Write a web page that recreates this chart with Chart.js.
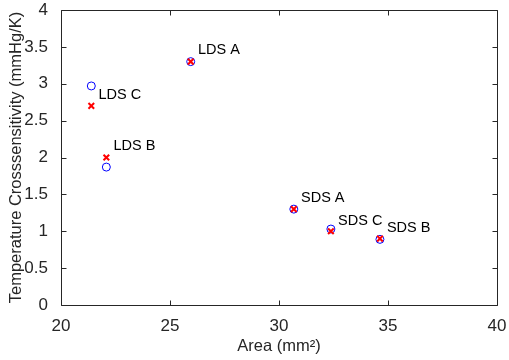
<!DOCTYPE html>
<html>
<head>
<meta charset="utf-8">
<script src="https://cdn.jsdelivr.net/npm/chart.js@4/dist/chart.umd.min.js"></script>
<style>
  html, body { margin: 0; padding: 0; background: #fff; }
  canvas { display: block; }
</style>
</head>
<body>
<canvas id="scatter" width="509" height="360"></canvas>
<script>
// sensor names and their area (mm^2)
const names = ['LDS A', 'LDS B', 'LDS C', 'SDS A', 'SDS B', 'SDS C'];
const area = [25.95, 22.08, 21.39, 30.68, 34.63, 32.38];
// two estimates of the temperature cross-sensitivity (mmHg/K)
const circleVals = [3.30, 1.87, 2.97, 1.30, 0.89, 1.03];
const crossVals = [3.30, 2.00, 2.70, 1.30, 0.90, 1.00];
// text() anchors for the name labels, in axis units
const labelX = [26.28, 22.41, 21.72, 31.01, 34.95, 32.71];
const labelY = [3.46, 2.15, 2.85, 1.45, 1.05, 1.14];

const xTicks = [20, 25, 30, 35, 40];
const yTicks = [0, 0.5, 1, 1.5, 2, 2.5, 3, 3.5, 4];

const axisColor = '#262626';
const fontFamily = 'Arial, "Liberation Sans", Helvetica, sans-serif';

// matlab style box with inward ticks on all four sides, plus the name labels
const boxPlugin = {
  id: 'boxPlugin',
  afterDatasetsDraw(chart) {
    const { ctx, chartArea: a, scales: { x, y } } = chart;
    const tl = 5;
    const l = Math.round(a.left) + 0.5, r = Math.round(a.right) + 0.5;
    const t = Math.round(a.top) + 0.5, b = Math.round(a.bottom) + 0.5;
    ctx.save();
    ctx.strokeStyle = axisColor;
    ctx.lineWidth = 1;
    ctx.beginPath();
    ctx.moveTo(l, t); ctx.lineTo(r, t); ctx.lineTo(r, b); ctx.lineTo(l, b); ctx.closePath();
    xTicks.forEach(v => {
      const px = Math.round(x.getPixelForValue(v)) + 0.5;
      ctx.moveTo(px, b); ctx.lineTo(px, b - tl);
      ctx.moveTo(px, t); ctx.lineTo(px, t + tl);
    });
    yTicks.forEach(v => {
      const py = Math.round(y.getPixelForValue(v)) + 0.5;
      ctx.moveTo(l, py); ctx.lineTo(l + tl, py);
      ctx.moveTo(r, py); ctx.lineTo(r - tl, py);
    });
    ctx.stroke();

    ctx.fillStyle = '#000';
    ctx.font = '14.5px ' + fontFamily;
    ctx.textBaseline = 'middle';
    ctx.textAlign = 'left';
    names.forEach((n, i) => {
      ctx.fillText(n, x.getPixelForValue(labelX[i]), y.getPixelForValue(labelY[i]));
    });
    ctx.restore();
  }
};

const toPoints = vals => area.map((a, i) => ({ x: a, y: vals[i] }));
const plainTick = v => String(v);

new Chart(document.getElementById('scatter'), {
  type: 'scatter',
  data: {
    datasets: [
      {
        label: 'cross',
        data: toPoints(crossVals),
        pointStyle: 'crossRot',
        pointRadius: 4,
        pointBorderWidth: 2,
        borderColor: '#ff0000',
        backgroundColor: '#ff0000',
        order: 0
      },
      {
        label: 'circle',
        data: toPoints(circleVals),
        pointStyle: 'circle',
        pointRadius: 4,
        pointBorderWidth: 1,
        borderColor: '#0000ff',
        backgroundColor: 'rgba(0,0,0,0)',
        order: 1
      }
    ]
  },
  options: {
    responsive: false,
    animation: false,
    events: [],
    layout: { padding: { top: 10, right: 12, left: 0, bottom: 0 } },
    plugins: { legend: { display: false }, tooltip: { enabled: false } },
    scales: {
      x: {
        type: 'linear',
        min: 20, max: 40,
        afterBuildTicks: s => { s.ticks = xTicks.map(v => ({ value: v })); },
        afterFit: s => { s.height = 55; s.paddingLeft = 0; s.paddingRight = 0; },
        grid: { display: false },
        border: { display: false },
        ticks: { color: axisColor, font: { size: 17, family: fontFamily }, padding: 3, maxRotation: 0, callback: plainTick },
        title: {
          display: true,
          text: 'Area (mm²)',
          color: axisColor,
          font: { size: 16.5, family: fontFamily },
          padding: { top: 0, bottom: 4 }
        }
      },
      y: {
        type: 'linear',
        min: 0, max: 4,
        afterBuildTicks: s => { s.ticks = yTicks.map(v => ({ value: v })); },
        afterFit: s => { s.width = 61; s.paddingTop = 0; s.paddingBottom = 0; },
        grid: { display: false },
        border: { display: false },
        ticks: { color: axisColor, font: { size: 17, family: fontFamily }, padding: 5, callback: plainTick },
        title: {
          display: true,
          text: 'Temperature Crosssensitivity (mmHg/K)',
          color: axisColor,
          font: { size: 16.5, family: fontFamily },
          padding: { top: 7, bottom: 0 }
        }
      }
    }
  },
  plugins: [boxPlugin]
});
</script>
</body>
</html>
